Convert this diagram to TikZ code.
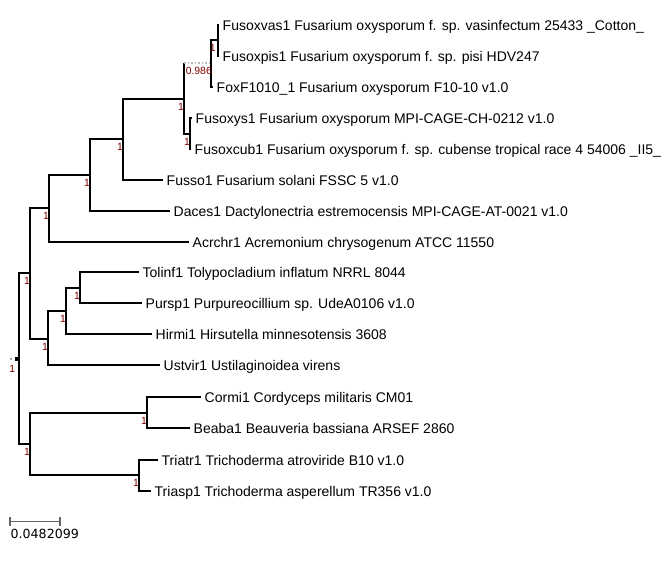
\documentclass[tikz,border=0pt]{standalone}
\usepackage{fontspec}
\setmainfont{Liberation Sans}
\newfontfamily\barfont{DejaVu Sans}
\usepackage{tikz}
\usetikzlibrary{calc}
\definecolor{suppred}{RGB}{128,0,0}
\definecolor{bargray}{RGB}{100,100,100}

\begin{document}
\begin{tikzpicture}[x=1pt,y=-1pt]
        \useasboundingbox (0,0) rectangle (665,566);
        \tikzstyle{leaf} = [anchor=base west,inner sep=0pt,xshift=3.5pt,yshift=-5pt,
          font=\fontsize{14}{16}\selectfont]
        \tikzstyle{supp} = [anchor=north east,inner sep=0.5pt,xshift=0.5pt,yshift=-3.5pt,
          text=suppred,font=\fontsize{10.4}{12}\selectfont]
        \tikzstyle{branch} = [line width=1.7pt,black]
        % tips of the leaves
        \coordinate (t1) at (219, 25);
        \coordinate (t2) at (219, 56);
        \coordinate (t3) at (213, 87);
        \coordinate (t4) at (192, 118);
        \coordinate (t5) at (191, 149);
        \coordinate (t6) at (163, 180);
        \coordinate (t7) at (170, 211);
        \coordinate (t8) at (189, 242);
        \coordinate (t9) at (139, 272);
        \coordinate (t10) at (142, 303);
        \coordinate (t11) at (152, 334);
        \coordinate (t12) at (160, 365);
        \coordinate (t13) at (201, 397);
        \coordinate (t14) at (190, 428);
        \coordinate (t15) at (158, 460);
        \coordinate (t16) at (151, 491);
        \node[leaf] (l1) at (t1) {Fusoxvas1 Fusarium oxysporum f. sp. vasinfectum 25433 \_Cotton\_};
        \node[leaf] (l2) at (t2) {Fusoxpis1 Fusarium oxysporum f. sp. pisi HDV247};
        \node[leaf] (l3) at (t3) {FoxF1010\_1 Fusarium oxysporum F10-10 v1.0};
        \node[leaf] (l4) at (t4) {Fusoxys1 Fusarium oxysporum MPI-CAGE-CH-0212 v1.0};
        \node[leaf] (l5) at (t5) {Fusoxcub1 Fusarium oxysporum f. sp. cubense tropical race 4 54006 \_II5\_};
        \node[leaf] (l6) at (t6) {Fusso1 Fusarium solani FSSC 5 v1.0};
        \node[leaf] (l7) at (t7) {Daces1 Dactylonectria estremocensis MPI-CAGE-AT-0021 v1.0};
        \node[leaf] (l8) at (t8) {Acrchr1 Acremonium chrysogenum ATCC 11550};
        \node[leaf] (l9) at (t9) {Tolinf1 Tolypocladium inflatum NRRL 8044};
        \node[leaf] (l10) at (t10) {Pursp1 Purpureocillium sp. UdeA0106 v1.0};
        \node[leaf] (l11) at (t11) {Hirmi1 Hirsutella minnesotensis 3608};
        \node[leaf] (l12) at (t12) {Ustvir1 Ustilaginoidea virens};
        \node[leaf] (l13) at (t13) {Cormi1 Cordyceps militaris CM01};
        \node[leaf] (l14) at (t14) {Beaba1 Beauveria bassiana ARSEF 2860};
        \node[leaf] (l15) at (t15) {Triatr1 Trichoderma atroviride B10 v1.0};
        \node[leaf] (l16) at (t16) {Triasp1 Trichoderma asperellum TR356 v1.0};
        % inner nodes
        \coordinate (pv) at (218, 40);
        \coordinate (pvf) at (211, 63);
        \coordinate (oc) at (190, 134);
        \coordinate (fox) at (184, 99);
        \coordinate (fus) at (123, 139);
        \coordinate (nect) at (90, 175);
        \coordinate (hyp) at (49, 208);
        \coordinate (tp) at (80, 288);
        \coordinate (tph) at (66, 311);
        \coordinate (tphu) at (48, 339);
        \coordinate (up) at (30, 273);
        \coordinate (cb) at (147, 413);
        \coordinate (tri) at (139, 475);
        \coordinate (low) at (30, 444);
        \coordinate (root) at (19, 359);
        % branches
        \draw [branch] (pv) |- (t1);
        \draw [branch] (pv) |- (t2);
        \draw [branch] (pvf) |- (pv);
        \draw [branch] (pvf) |- (t3);
        \draw [branch] (oc) |- (t4);
        \draw [branch] (oc) |- (t5);
        \draw [branch] (fox) -- (fox |- pvf);
        \draw [line width=1.5pt,gray!55,dotted] (fox |- pvf) -- (pvf);
        \draw [branch] (fox) |- (oc);
        \draw [branch] (fus) |- (fox);
        \draw [branch] (fus) |- (t6);
        \draw [branch] (nect) |- (fus);
        \draw [branch] (nect) |- (t7);
        \draw [branch] (hyp) |- (nect);
        \draw [branch] (hyp) |- (t8);
        \draw [branch] (tp) |- (t9);
        \draw [branch] (tp) |- (t10);
        \draw [branch] (tph) |- (tp);
        \draw [branch] (tph) |- (t11);
        \draw [branch] (tphu) |- (tph);
        \draw [branch] (tphu) |- (t12);
        \draw [branch] (up) |- (hyp);
        \draw [branch] (up) |- (tphu);
        \draw [branch] (cb) |- (t13);
        \draw [branch] (cb) |- (t14);
        \draw [branch] (tri) |- (t15);
        \draw [branch] (tri) |- (t16);
        \draw [branch] (low) |- (cb);
        \draw [branch] (low) |- (tri);
        \draw [branch] (root) |- (up);
        \draw [branch] (root) |- (low);
        % support values
        \node[supp,xshift=-2.1pt] (s1) at (pv) {1};
        \node[supp,xshift=1pt] (s2) at (pvf) {0.986};
        \node[supp] (s3) at (oc) {1};
        \node[supp] (s4) at (fox) {1};
        \node[supp] (s5) at (fus) {1};
        \node[supp] (s6) at (nect) {1};
        \node[supp] (s7) at (hyp) {1};
        \node[supp] (s8) at (tp) {1};
        \node[supp] (s9) at (tph) {1};
        \node[supp] (s10) at (tphu) {1};
        \node[supp] (s11) at (up) {1};
        \node[supp] (s12) at (cb) {1};
        \node[supp] (s13) at (tri) {1};
        \node[supp] (s14) at (low) {1};
        \node[supp,xshift=-3.6pt,yshift=-2.2pt] (s15) at (root) {1};
        \fill [black] ($(root)+(-4,-2)$) rectangle ($(root)+(0.5,2)$);
        \fill [gray] (11, 359) circle (1.1pt);
        % scale bar
        \coordinate (b1) at (10, 521.5);
        \coordinate (b2) at (60, 521.5);
        \draw [line width=1.4pt,bargray] (b1) -- (b2);
        \draw [line width=1.4pt,bargray] ($(b1)+(0,-4.5)$) -- ($(b1)+(0,4.5)$);
        \draw [line width=1.4pt,bargray] ($(b2)+(0,-4.5)$) -- ($(b2)+(0,4.5)$);
        \node[anchor=base west,inner sep=0pt,font=\barfont\fontsize{12.6}{14}\selectfont] (bar) at (10.5, 538) {0.0482099};
\end{tikzpicture}
\end{document}
